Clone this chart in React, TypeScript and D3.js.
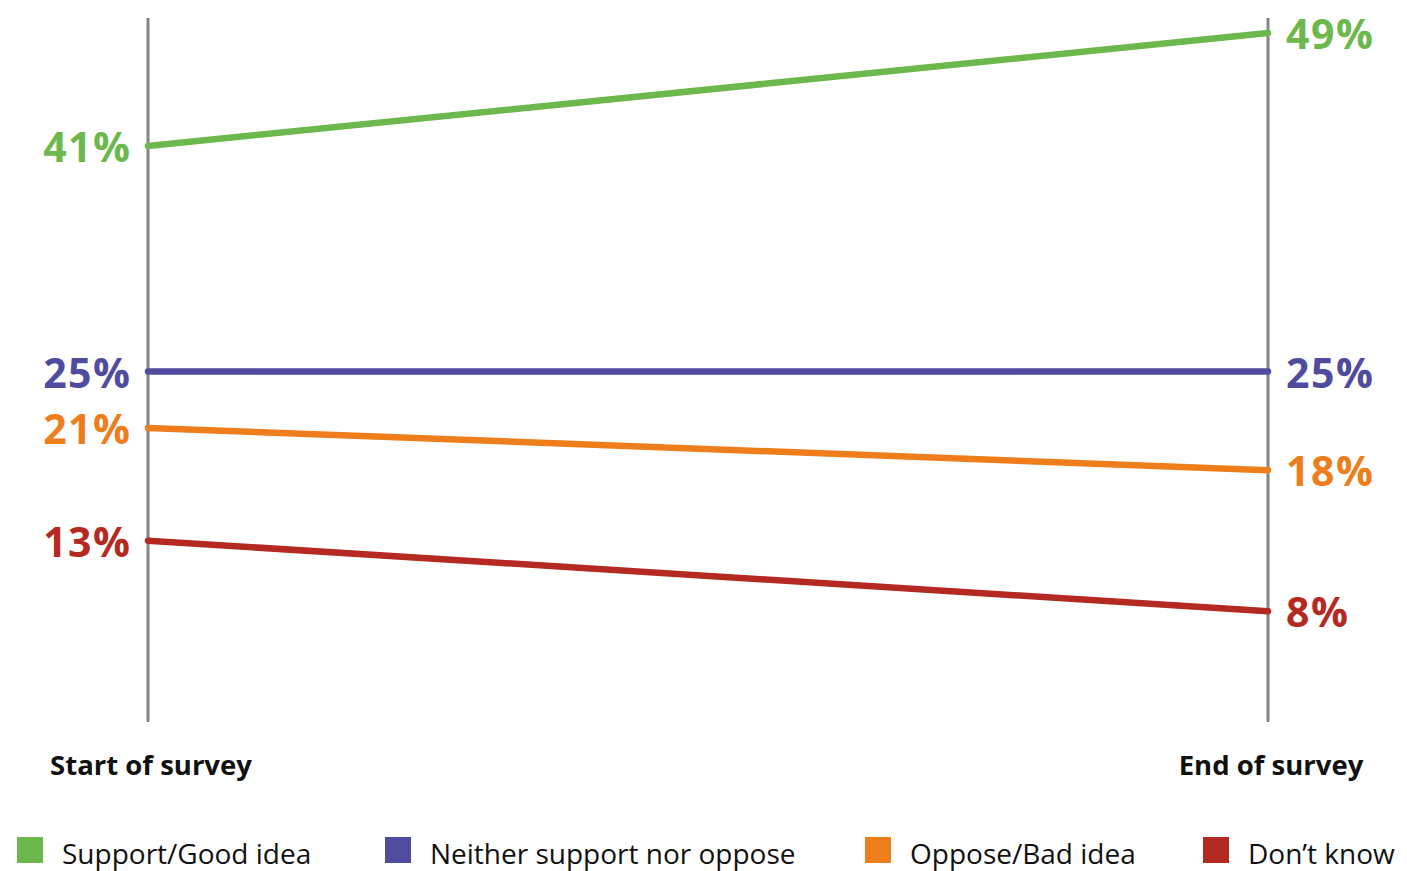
import React from "react";
import * as d3 from "d3";

const periods = ["Start of survey", "End of survey"];
const seriesNames = ["Support/Good idea", "Neither support nor oppose", "Oppose/Bad idea", "Don\u2019t know"];
const startValues = [41, 25, 21, 13];
const endValues = [49, 25, 18, 8];
const seriesColors = ["#6cb84c", "#4f4b9f", "#ee7d1c", "#b42a22"];

const W = 1407;
const H = 871;
const FONT = "'Open Sans', 'Noto Sans', sans-serif";

export default function App() {
  const x = d3.scalePoint<string>().domain(periods).range([148, 1268]);
  const y = d3.scaleLinear().domain([0, 50]).range([724, 19]);
  const line = d3
    .line<[string, number]>()
    .x((d) => x(d[0]) as number)
    .y((d) => y(d[1]));

  const legendX = [17, 385, 865, 1203];
  const labelStyle = { fontSize: 41, fontWeight: 700, letterSpacing: 1.5 };

  return (
    <svg
      width={W}
      height={H}
      style={{ position: "absolute", left: 0, top: 0, background: "#fff" }}
      fontFamily={FONT}
    >
      {periods.map((p) => (
        <line
          key={p}
          x1={x(p)}
          x2={x(p)}
          y1={y(50) - 1}
          y2={y(0) - 2}
          stroke="#858585"
          strokeWidth={3}
        />
      ))}
      {seriesNames.map((name, i) => {
        const pts: [string, number][] = [
          [periods[0], startValues[i]],
          [periods[1], endValues[i]],
        ];
        return (
          <g key={name}>
            <path d={line(pts) ?? ""} fill="none" stroke={seriesColors[i]} strokeWidth={6.5} strokeLinecap="round" />
            <text
              x={(x(periods[0]) as number) - 16.5}
              y={y(startValues[i]) + 16}
              textAnchor="end"
              fill={seriesColors[i]}
              {...labelStyle}
            >
              {startValues[i]}%
            </text>
            <text
              x={(x(periods[1]) as number) + 18}
              y={Math.max(y(endValues[i]) + 16, 44)}
              textAnchor="start"
              fill={seriesColors[i]}
              {...labelStyle}
            >
              {endValues[i]}%
            </text>
          </g>
        );
      })}
      {periods.map((p) => (
        <text key={p} x={(x(p) as number) + 3} y={775} textAnchor="middle" fontSize={27.5} fontWeight={700} fill="#111">
          {p}
        </text>
      ))}
      {seriesNames.map((name, i) => (
        <g key={name}>
          <rect x={legendX[i]} y={837} width={26} height={26} fill={seriesColors[i]} />
          <text x={legendX[i] + 45} y={864} fontSize={28} fill="#111">
            {name}
          </text>
        </g>
      ))}
    </svg>
  );
}
